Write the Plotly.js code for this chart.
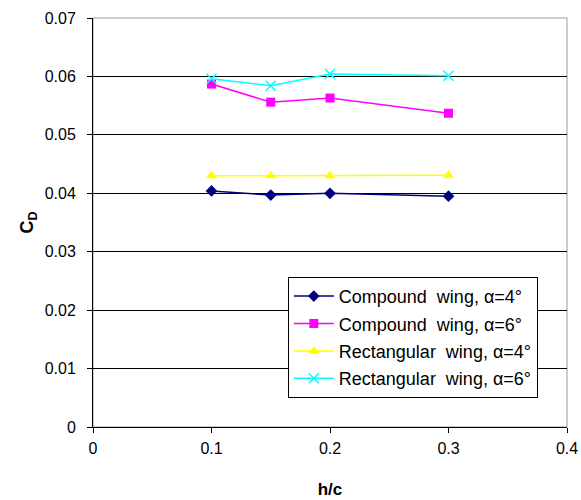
<!DOCTYPE html>
<html><head><meta charset="utf-8">
<script src="https://cdn.plot.ly/plotly-3.0.1.min.js"></script>
<style>html,body{margin:0;padding:0;background:#fff}</style>
</head><body>
<div id="chart" style="width:581px;height:500px"></div>
<script>
const hc = [0.1, 0.15, 0.2, 0.3];
const compound4 = [0.0404, 0.0397, 0.0400, 0.0395];
const compound6 = [0.0587, 0.0556, 0.0563, 0.0537];
const rect4 = [0.0430, 0.0430, 0.0430, 0.0431];
const rect6 = [0.0596, 0.0584, 0.0604, 0.0601];
const names = ["Compound  wing, α=4°", "Compound  wing, α=6°", "Rectangular  wing, α=4°", "Rectangular  wing, α=6°"];

const traces = [
  {x: hc, y: compound4, name: names[0], legendgroup: 'a', mode: 'lines+markers', line: {color: '#000080', width: 1.5}, marker: {symbol: 'diamond', size: 9, color: '#000080'}},
  {x: hc, y: compound6, name: names[1], legendgroup: 'b', mode: 'lines+markers', line: {color: '#ff00ff', width: 1.5}, marker: {symbol: 'square', size: 9, color: '#ff00ff'}},
  {x: hc, y: rect4, name: names[2], legendgroup: 'c', mode: 'lines+markers', line: {color: '#ffff00', width: 1.5}, marker: {symbol: 'triangle-up', size: 10, color: '#ffff00'}},
  {x: hc, y: rect6, name: names[3], legendgroup: 'd', mode: 'lines+markers', line: {color: '#00ffff', width: 1.5}, marker: {symbol: 'x-thin-open', size: 10, line: {color: '#00ffff', width: 1.5}, color: '#00ffff'}}
];

const layout = {
  width: 581, height: 500,
  margin: {l: 93, r: 14, t: 18, b: 73},
  paper_bgcolor: '#fff', plot_bgcolor: '#fff',
  font: {family: 'Liberation Sans, Arial, sans-serif', color: '#000', size: 16},
  showlegend: true,
  legend: {x: 0.411, y: 0.367, xanchor: 'left', yanchor: 'top', bordercolor: '#000', borderwidth: 1, bgcolor: '#fff', font: {size: 18}, tracegroupgap: 1, itemwidth: 40},
  xaxis: {range: [0, 0.4], dtick: 0.1, showgrid: false, zeroline: false, showline: true, linecolor: '#000', linewidth: 1, ticks: 'outside', ticklen: 5, tickcolor: '#000', ticklabelstandoff: 2,
    title: {text: '<b>h/c</b>', font: {size: 17}, standoff: 26}},
  yaxis: {range: [0, 0.07], dtick: 0.01, showgrid: true, gridcolor: '#000', gridwidth: 1, zeroline: false, showline: true, linecolor: '#000', linewidth: 1, ticks: 'outside', ticklen: 5, tickcolor: '#000', ticklabelstandoff: 8,
    title: {text: '<b>C<sub>D</sub></b>', font: {size: 18}, standoff: 6}},
  shapes: [{type: 'rect', xref: 'paper', yref: 'paper', x0: 0, x1: 1, y0: 0, y1: 1, line: {color: '#999', width: 1}, layer: 'below'}]
};
Plotly.newPlot('chart', traces, layout, {displayModeBar: false, staticPlot: true});
</script>
</body></html>
